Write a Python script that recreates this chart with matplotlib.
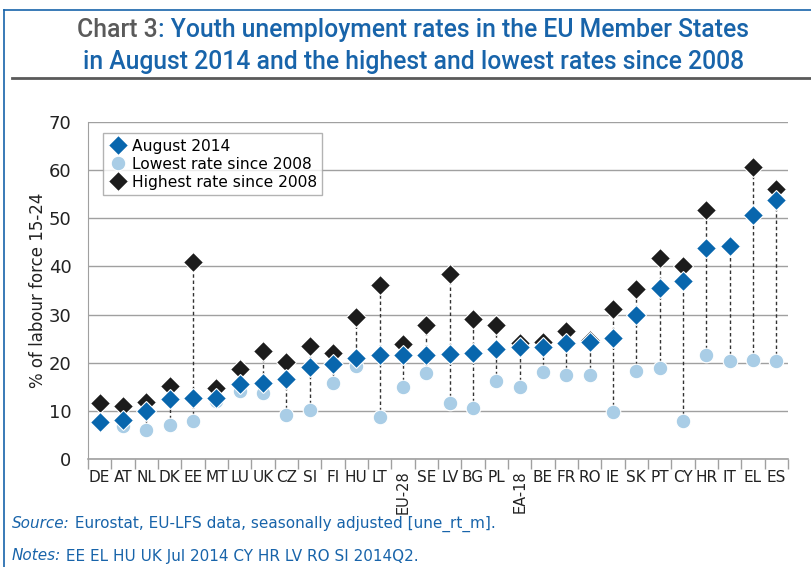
import matplotlib
matplotlib.use("Agg")
import matplotlib.pyplot as plt
from matplotlib.lines import Line2D
import numpy as np

countries = ["DE", "AT", "NL", "DK", "EE", "MT", "LU", "UK", "CZ", "SI", "FI", "HU", "LT", "EU-28",
             "SE", "LV", "BG", "PL", "EA-18", "BE", "FR", "RO", "IE", "SK", "PT", "CY", "HR", "IT",
             "EL", "ES"]
aug_2014 = [7.6, 8.2, 10.0, 12.5, 12.7, 12.7, 15.5, 15.7, 16.6, 19.2, 19.8, 20.9, 21.5, 21.6,
            21.6, 21.8, 22.1, 22.8, 23.3, 23.3, 24.1, 24.4, 25.1, 29.9, 35.6, 37.0, 43.9, 44.2,
            50.7, 53.8]
lowest = [7.5, 6.9, 6.1, 7.1, 7.8, 12.1, 14.1, 13.7, 9.1, 10.2, 15.8, 19.3, 8.8, 15.0,
          17.9, 11.6, 10.5, 16.3, 15.0, 18.1, 17.5, 17.5, 9.8, 18.2, 18.8, 7.8, 21.7, 20.4,
          20.6, 20.3]
highest = [11.6, 11.0, 11.8, 15.2, 41.0, 14.8, 18.7, 22.5, 20.2, 23.5, 22.0, 29.5, 36.2, 23.8,
           27.9, 38.5, 29.1, 27.8, 24.1, 24.3, 26.5, 24.8, 31.1, 35.4, 41.7, 40.1, 51.8, 44.2,
           60.7, 56.1]

C_AUG = "#0866ad"
C_LOW = "#a9cde6"
C_HIGH = "#1c1c1c"
C_BLUE_TXT = "#1864aa"
C_GREY = "#5a5a5a"
TITLE_FONT = dict(family="Roboto", fontweight="medium", fontsize=17.8)

plt.rcParams["font.family"] = ["DejaVu Sans"]
fig = plt.figure(figsize=(8.11, 5.67), dpi=100)
W, H = 811, 567


def width_of(txt, **kw):
    t = fig.text(0, 0, txt, **kw)
    fig.canvas.draw()
    w = t.get_window_extent().width
    t.remove()
    return w / W


# frame around the whole chart box
fig.add_artist(Line2D([4 / W, 4 / W], [0, 1 - 10 / H], color=C_BLUE_TXT, lw=1.2))
fig.add_artist(Line2D([4 / W, 1], [1 - 10 / H, 1 - 10 / H], color=C_BLUE_TXT, lw=1.2))
fig.add_artist(Line2D([12 / W, 1], [1 - 78 / H, 1 - 78 / H], color=C_GREY, lw=2))

# title, first line in two colours
line1a, line1b = "Chart 3", ": Youth unemployment rates in the EU Member States"
full = width_of(line1a + line1b, **TITLE_FONT)
wa = width_of(line1a, **TITLE_FONT)
x0 = 413 / W - full / 2
fig.text(x0, 1 - 30 / H, line1a, color=C_GREY, ha="left", va="center", **TITLE_FONT)
fig.text(x0 + wa, 1 - 30 / H, line1b, color=C_BLUE_TXT, ha="left", va="center", **TITLE_FONT)
fig.text(414 / W, 1 - 62 / H, "in August 2014 and the highest and lowest rates since 2008",
         color=C_BLUE_TXT, ha="center", va="center", **TITLE_FONT)

ax = fig.add_axes([88 / W, 1 - 459 / H, 700 / W, 337 / H])
x = np.arange(len(countries))

for i in range(len(countries)):
    ax.plot([x[i], x[i]], [lowest[i], highest[i]], color="#333333", lw=1, ls=(0, (2.5, 2)), zorder=2)
ax.plot(x, highest, ls="none", marker="D", ms=10, color=C_HIGH, mec="white", mew=0.8, zorder=3,
        label="Highest rate since 2008")
ax.plot(x, lowest, ls="none", marker="o", ms=10.5, color=C_LOW, mec="white", mew=0.8, zorder=4,
        label="Lowest rate since 2008")
ax.plot(x, aug_2014, ls="none", marker="D", ms=10, color=C_AUG, mec="white", mew=0.8, zorder=5,
        label="August 2014")

ax.set_xlim(-0.5, len(countries) - 0.5)
ax.set_ylim(0, 70)
ax.set_yticks(range(0, 71, 10))
ax.yaxis.grid(True, color="#a0a0a0", lw=1)
ax.set_axisbelow(True)
for s in ["top", "right"]:
    ax.spines[s].set_visible(False)
ax.spines["left"].set_color("#a0a0a0")
ax.spines["bottom"].set_color("#a0a0a0")
ax.spines["bottom"].set_linewidth(1.2)
ax.tick_params(axis="y", length=0, labelsize=13, pad=12, labelcolor="#222222")
ax.set_xticks(x)
ax.set_xticklabels(countries, fontsize=11, color="#222222")
for lab in ax.get_xticklabels():
    if "-" in lab.get_text():
        lab.set_rotation(90)
        lab.set_va("top")
        lab.set_fontsize(10.5)
ax.tick_params(axis="x", length=0, pad=8)
ax.set_xticks(np.arange(-0.5, len(countries), 1), minor=True)
ax.tick_params(axis="x", which="minor", length=7, color="#a0a0a0", width=1)
ax.set_ylabel("% of labour force 15-24", fontsize=12, color="#222222", labelpad=1)

h, l = ax.get_legend_handles_labels()
leg = ax.legend(h[::-1], l[::-1], loc="upper left", bbox_to_anchor=(0.01, 0.99), fontsize=11.2,
                frameon=True, fancybox=False, edgecolor="#a0a0a0", handletextpad=0.3,
                borderpad=0.35, labelspacing=0.2, handlelength=1.2)
leg.get_frame().set_linewidth(1)

NOTE_FONT = dict(fontsize=11, color=C_BLUE_TXT, va="center")
for yy, head, body in [(524, "Source:", " Eurostat, EU-LFS data, seasonally adjusted [une_rt_m]."),
                       (556, "Notes:", " EE EL HU UK Jul 2014 CY HR LV RO SI 2014Q2.")]:
    wh = width_of(head, style="italic", fontsize=11)
    fig.text(12 / W, 1 - yy / H, head, style="italic", **NOTE_FONT)
    fig.text(12 / W + wh, 1 - yy / H, body, **NOTE_FONT)

fig.savefig("out.png", dpi=100)
